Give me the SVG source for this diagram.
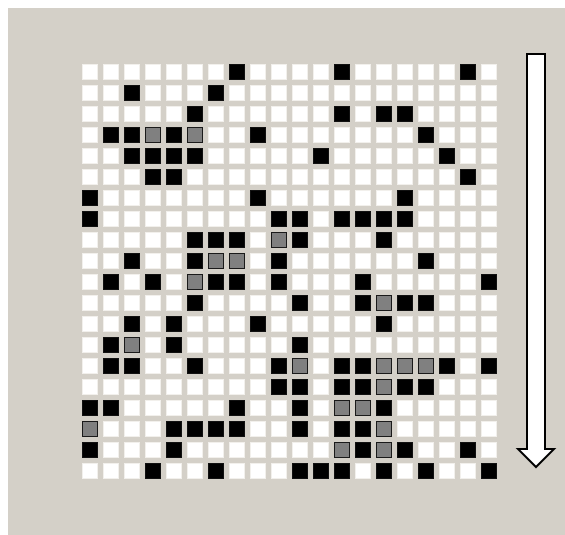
<svg xmlns="http://www.w3.org/2000/svg" xmlns:xlink="http://www.w3.org/1999/xlink" width="565" height="535" viewBox="0 0 565 535">
<style>
.bk{fill:#000;stroke:#111;stroke-width:1}
.gr{fill:#808080;stroke:#1a1a1a;stroke-width:1}
</style>
<defs>
<pattern id="cells" patternUnits="userSpaceOnUse" x="82" y="64" width="21" height="21">
<rect x="0.5" y="0.5" width="15" height="15" fill="#fff" stroke="#f2f0ec" stroke-width="1"/>
</pattern>
<rect id="b" class="bk" x="0.5" y="0.5" width="15" height="15"/>
<rect id="g" class="gr" x="0.5" y="0.5" width="15" height="15"/>
</defs>
<rect x="0" y="0" width="565" height="535" fill="#fff"/>
<rect x="8" y="8" width="557" height="527" fill="#d4d0c8"/>
<g id="grid">
<rect x="82" y="64" width="415" height="415" fill="url(#cells)"/>
<!-- row 0 -->
<use href="#b" x="229" y="64"/><use href="#b" x="334" y="64"/><use href="#b" x="460" y="64"/>
<!-- row 1 -->
<use href="#b" x="124" y="85"/><use href="#b" x="208" y="85"/>
<!-- row 2 -->
<use href="#b" x="187" y="106"/><use href="#b" x="334" y="106"/><use href="#b" x="376" y="106"/><use href="#b" x="397" y="106"/>
<!-- row 3 -->
<use href="#b" x="103" y="127"/><use href="#b" x="124" y="127"/><use href="#g" x="145" y="127"/><use href="#b" x="166" y="127"/><use href="#g" x="187" y="127"/><use href="#b" x="250" y="127"/><use href="#b" x="418" y="127"/>
<!-- row 4 -->
<use href="#b" x="124" y="148"/><use href="#b" x="145" y="148"/><use href="#b" x="166" y="148"/><use href="#b" x="187" y="148"/><use href="#b" x="313" y="148"/><use href="#b" x="439" y="148"/>
<!-- row 5 -->
<use href="#b" x="145" y="169"/><use href="#b" x="166" y="169"/><use href="#b" x="460" y="169"/>
<!-- row 6 -->
<use href="#b" x="82" y="190"/><use href="#b" x="250" y="190"/><use href="#b" x="397" y="190"/>
<!-- row 7 -->
<use href="#b" x="82" y="211"/><use href="#b" x="271" y="211"/><use href="#b" x="292" y="211"/><use href="#b" x="334" y="211"/><use href="#b" x="355" y="211"/><use href="#b" x="376" y="211"/><use href="#b" x="397" y="211"/>
<!-- row 8 -->
<use href="#b" x="187" y="232"/><use href="#b" x="208" y="232"/><use href="#b" x="229" y="232"/><use href="#g" x="271" y="232"/><use href="#b" x="292" y="232"/><use href="#b" x="376" y="232"/>
<!-- row 9 -->
<use href="#b" x="124" y="253"/><use href="#b" x="187" y="253"/><use href="#g" x="208" y="253"/><use href="#g" x="229" y="253"/><use href="#b" x="271" y="253"/><use href="#b" x="418" y="253"/>
<!-- row 10 -->
<use href="#b" x="103" y="274"/><use href="#b" x="145" y="274"/><use href="#g" x="187" y="274"/><use href="#b" x="208" y="274"/><use href="#b" x="229" y="274"/><use href="#b" x="271" y="274"/><use href="#b" x="355" y="274"/><use href="#b" x="481" y="274"/>
<!-- row 11 -->
<use href="#b" x="187" y="295"/><use href="#b" x="292" y="295"/><use href="#b" x="355" y="295"/><use href="#g" x="376" y="295"/><use href="#b" x="397" y="295"/><use href="#b" x="418" y="295"/>
<!-- row 12 -->
<use href="#b" x="124" y="316"/><use href="#b" x="166" y="316"/><use href="#b" x="250" y="316"/><use href="#b" x="376" y="316"/>
<!-- row 13 -->
<use href="#b" x="103" y="337"/><use href="#g" x="124" y="337"/><use href="#b" x="166" y="337"/><use href="#b" x="292" y="337"/>
<!-- row 14 -->
<use href="#b" x="103" y="358"/><use href="#b" x="124" y="358"/><use href="#b" x="187" y="358"/><use href="#b" x="271" y="358"/><use href="#g" x="292" y="358"/><use href="#b" x="334" y="358"/><use href="#b" x="355" y="358"/><use href="#g" x="376" y="358"/><use href="#g" x="397" y="358"/><use href="#g" x="418" y="358"/><use href="#b" x="439" y="358"/><use href="#b" x="481" y="358"/>
<!-- row 15 -->
<use href="#b" x="271" y="379"/><use href="#b" x="292" y="379"/><use href="#b" x="334" y="379"/><use href="#b" x="355" y="379"/><use href="#g" x="376" y="379"/><use href="#b" x="397" y="379"/><use href="#b" x="418" y="379"/>
<!-- row 16 -->
<use href="#b" x="82" y="400"/><use href="#b" x="103" y="400"/><use href="#b" x="229" y="400"/><use href="#b" x="292" y="400"/><use href="#g" x="334" y="400"/><use href="#g" x="355" y="400"/><use href="#b" x="376" y="400"/>
<!-- row 17 -->
<use href="#g" x="82" y="421"/><use href="#b" x="166" y="421"/><use href="#b" x="187" y="421"/><use href="#b" x="208" y="421"/><use href="#b" x="229" y="421"/><use href="#b" x="292" y="421"/><use href="#b" x="334" y="421"/><use href="#b" x="355" y="421"/><use href="#g" x="376" y="421"/>
<!-- row 18 -->
<use href="#b" x="82" y="442"/><use href="#b" x="166" y="442"/><use href="#g" x="334" y="442"/><use href="#b" x="355" y="442"/><use href="#g" x="376" y="442"/><use href="#b" x="397" y="442"/><use href="#b" x="460" y="442"/>
<!-- row 19 -->
<use href="#b" x="145" y="463"/><use href="#b" x="208" y="463"/><use href="#b" x="292" y="463"/><use href="#b" x="313" y="463"/><use href="#b" x="334" y="463"/><use href="#b" x="376" y="463"/><use href="#b" x="418" y="463"/><use href="#b" x="481" y="463"/>
</g>
<g id="arrow">
<polygon points="527,54 545,54 545,449 554,449 536,467 518,449 527,449" fill="#fff" stroke="#000" stroke-width="2" stroke-linejoin="miter"/>
</g>
</svg>
